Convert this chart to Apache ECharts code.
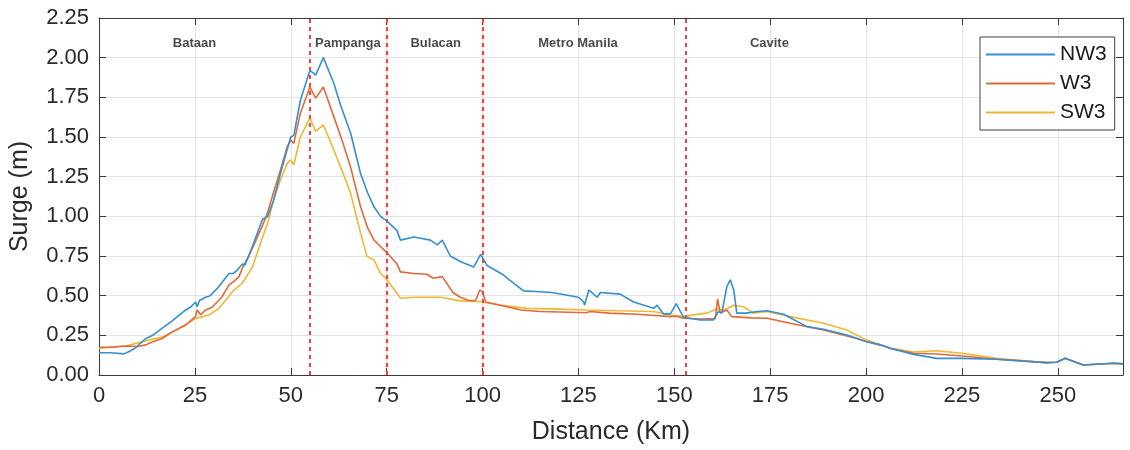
<!DOCTYPE html>
<html>
<head>
<meta charset="utf-8">
<script src="https://cdn.jsdelivr.net/npm/echarts@6/dist/echarts.min.js"></script>
<style>html,body{margin:0;padding:0;background:#fff}#c{width:1130px;height:450px}</style>
</head>
<body>
<div id="c"></div>
<script>
// ---- data ----
const nw3Km = [0,3,6.5,8,9.5,10.8,12.2,14,16.5,19,22.6,24,25.2,25.6,26.2,27.8,29,31,33.9,35,36,37.4,38,40,42.6,44,45.5,47.3,50,50.8,52.5,55,56.5,58.5,61.2,63,65.6,68.2,70,71.7,73.4,75.1,77.7,78.6,82.1,86.4,88.2,89.5,91.6,94.2,97.7,99.5,101.2,105.5,107,110.7,115.1,118,122.9,125,126.4,126.6,127.7,129.9,130.7,135.9,139.4,144.6,145.5,147.2,149,150.5,152.4,156.8,160.2,161.5,162.4,163.7,164.6,165.5,166.3,168.9,171.6,174.2,178.5,184.6,188.9,195,200.2,203.7,206.3,212.4,218.4,225,234,247,249.7,251.9,256.6,264.5,267];
const nw3Surge = [0.14,0.14,0.133,0.15,0.17,0.2,0.23,0.25,0.295,0.34,0.41,0.43,0.46,0.43,0.47,0.49,0.5,0.55,0.64,0.64,0.66,0.70,0.69,0.81,0.98,1.0,1.1,1.27,1.50,1.51,1.73,1.92,1.89,2.0,1.84,1.70,1.525,1.27,1.15,1.06,1.0,0.97,0.91,0.85,0.87,0.85,0.82,0.85,0.75,0.715,0.68,0.76,0.69,0.63,0.60,0.53,0.525,0.52,0.50,0.49,0.46,0.44,0.536,0.49,0.52,0.51,0.46,0.42,0.44,0.385,0.385,0.45,0.364,0.347,0.347,0.40,0.39,0.557,0.6,0.536,0.39,0.39,0.40,0.405,0.383,0.305,0.288,0.252,0.21,0.19,0.168,0.13,0.105,0.105,0.099,0.078,0.08,0.105,0.063,0.074,0.07];

const w3Km = [0,3,7,10,12.2,14,16.5,19,22.6,25.2,25.6,26.5,27.8,29.5,32,33.9,35.2,36.5,37.5,39.1,42.6,43.9,45.5,47.3,49.1,50,50.8,52.5,55,56.5,58.5,61.2,63.5,65.6,68.2,70,71.7,73.4,75.1,77.7,78.6,82.1,85.5,87.2,89.5,92.3,94.2,96.4,98.2,99.3,100.1,100.8,105.5,110,115,120,127,128,133,140.3,145,149,150.5,152.4,156.7,160.7,161.3,162,163.7,165,170,174.2,180.2,188.9,197.6,200.2,203.7,206.3,212.4,218.4,225,234,247,249.7,251.9,256.6,264.5,267];
const w3Surge = [0.175,0.175,0.183,0.18,0.19,0.21,0.23,0.27,0.315,0.37,0.41,0.38,0.41,0.427,0.49,0.568,0.59,0.62,0.68,0.75,0.94,1.02,1.15,1.29,1.44,1.48,1.46,1.65,1.815,1.745,1.815,1.63,1.47,1.31,1.06,0.93,0.85,0.81,0.77,0.70,0.65,0.64,0.635,0.61,0.62,0.52,0.49,0.47,0.47,0.536,0.52,0.46,0.435,0.41,0.40,0.397,0.392,0.40,0.39,0.383,0.375,0.368,0.37,0.358,0.353,0.355,0.48,0.39,0.41,0.368,0.36,0.358,0.326,0.284,0.23,0.21,0.19,0.168,0.137,0.132,0.12,0.099,0.078,0.08,0.105,0.063,0.074,0.07];

const sw3Km = [0,3,7,10.4,13,16.5,19,22.6,25.2,28.7,31.3,34.8,37.4,40,43.4,43.9,45.5,47.3,49.1,50,50.8,52.5,55,56.5,58.5,61.2,63.5,65.6,68.2,69.9,71.7,73.4,75.1,77.7,78.6,82.1,89.1,94.2,99.5,105,111.6,120,127,135,144.6,149,152.4,156.7,158.5,161,163,165.5,168,170.6,174.2,180.2,188.9,195,200.2,203.7,206.3,212.4,218.4,225,234,247,249.7,251.9,256.6,264.5,267];
const sw3Surge = [0.168,0.175,0.183,0.204,0.22,0.24,0.27,0.315,0.357,0.378,0.42,0.525,0.58,0.68,0.92,0.95,1.10,1.23,1.335,1.356,1.325,1.50,1.62,1.535,1.577,1.42,1.28,1.146,0.894,0.746,0.725,0.64,0.60,0.515,0.484,0.49,0.49,0.467,0.462,0.44,0.42,0.415,0.41,0.405,0.40,0.378,0.368,0.385,0.39,0.415,0.41,0.44,0.43,0.39,0.40,0.368,0.326,0.284,0.22,0.19,0.168,0.145,0.153,0.137,0.105,0.078,0.08,0.105,0.063,0.074,0.07];

const boundaryKm = [55, 75, 100, 153];
const regionNames = ['Bataan', 'Pampanga', 'Bulacan', 'Metro Manila', 'Cavite'];
const regionKm = [24.9, 64.9, 87.8, 124.9, 174.8];
const regionLabelY = 2.09;
const xTicks = [0, 25, 50, 75, 100, 125, 150, 175, 200, 225, 250];
const seriesNames = ['NW3', 'W3', 'SW3'];

// ---- chart ----
const zip = (a, b) => a.map((v, i) => [v, b[i]]);
const colors = ['#3590d2', '#e06a3a', '#f0b735'];
const axisColor = '#3a3a3a';
const textColor = '#2a2a2a';
const font = 'Liberation Sans, Arial, sans-serif';

const chart = echarts.init(document.getElementById('c'), null, {renderer: 'canvas'});
const baseX = {
  type: 'value', min: 0, max: 267, interval: 25,
  axisLine: {show: true, onZero: false, lineStyle: {color: axisColor, width: 1}},
  axisTick: {show: true, inside: true, length: 7, lineStyle: {color: axisColor}},
  splitLine: {show: false}
};
const baseY = {
  type: 'value', min: 0, max: 2.25, interval: 0.25,
  axisLine: {show: true, onZero: false, lineStyle: {color: axisColor, width: 1}},
  axisTick: {show: true, inside: true, length: 7, lineStyle: {color: axisColor}},
  splitLine: {show: false}
};
const option = {
  animation: false,
  backgroundColor: '#ffffff',
  color: colors,
  grid: {left: 98, right: 7, top: 18, bottom: 75, containLabel: false},
  xAxis: [
    Object.assign({}, baseX, {
      position: 'bottom',
      name: 'Distance (Km)', nameLocation: 'middle', nameGap: 45,
      nameTextStyle: {fontSize: 25, color: textColor, fontFamily: font},
      axisLabel: {fontSize: 22, color: textColor, fontFamily: font, margin: 10,
        formatter: v => xTicks.indexOf(v) >= 0 ? String(v) : ''},
      splitLine: {show: true, lineStyle: {color: '#e3e3e3', width: 1}}
    }),
    Object.assign({}, baseX, {position: 'top', axisLabel: {show: false}})
  ],
  yAxis: [
    Object.assign({}, baseY, {
      position: 'left',
      name: 'Surge (m)', nameLocation: 'middle', nameGap: 66,
      nameTextStyle: {fontSize: 25, color: textColor, fontFamily: font},
      axisLabel: {fontSize: 22, color: textColor, fontFamily: font, margin: 10,
        formatter: v => v.toFixed(2)},
      splitLine: {show: true, lineStyle: {color: '#e3e3e3', width: 1}}
    }),
    Object.assign({}, baseY, {position: 'right', axisLabel: {show: false}})
  ],
  legend: {
    orient: 'vertical', left: 980, top: 37,
    data: seriesNames.map(n => ({name: n, icon: 'rect'})),
    itemWidth: 69, itemHeight: 2, itemGap: 8,
    padding: [7, 8, 7, 6],
    borderColor: '#404040', borderWidth: 1, backgroundColor: '#ffffff',
    textStyle: {fontSize: 21, color: '#1a1a1a', fontFamily: font}
  },
  series: [
    {name: seriesNames[0], type: 'line', data: zip(nw3Km, nw3Surge), showSymbol: false, symbol: 'none',
     lineStyle: {width: 1.6, color: colors[0]}, itemStyle: {color: colors[0]}, z: 5},
    {name: seriesNames[1], type: 'line', data: zip(w3Km, w3Surge), showSymbol: false, symbol: 'none',
     lineStyle: {width: 1.6, color: colors[1]}, itemStyle: {color: colors[1]}, z: 4},
    {name: seriesNames[2], type: 'line', data: zip(sw3Km, sw3Surge), showSymbol: false, symbol: 'none',
     lineStyle: {width: 1.6, color: colors[2]}, itemStyle: {color: colors[2]}, z: 3,
     markLine: {
       silent: true, symbol: ['none', 'none'], label: {show: false},
       lineStyle: {color: '#ff3b3b', width: 2, type: [4, 4]},
       data: boundaryKm.map(v => ({xAxis: v}))
     }},
    {name: 'regions', type: 'scatter', symbolSize: 0, silent: true,
     data: regionKm.map((k, i) => ({value: [k, regionLabelY], name: regionNames[i]})),
     label: {show: true, position: 'inside', formatter: p => p.name,
       fontSize: 13, fontWeight: 'bold', color: '#1a1a1a', fontFamily: font}}
  ]
};
chart.setOption(option);
</script>
</body>
</html>
